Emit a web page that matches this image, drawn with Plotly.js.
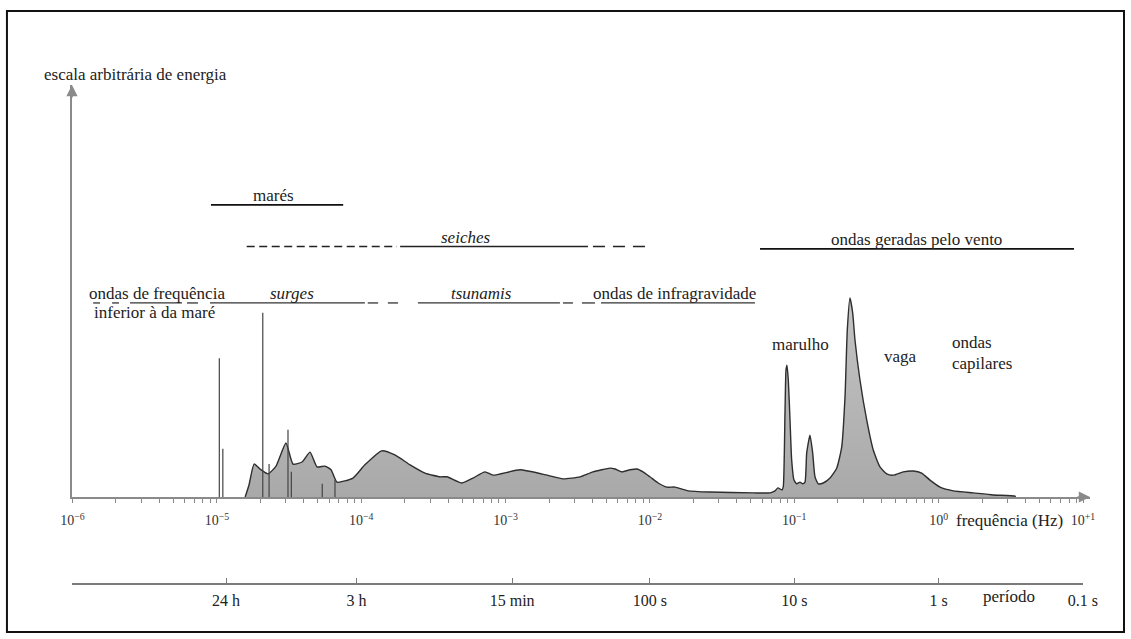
<!DOCTYPE html>
<html><head><meta charset="utf-8">
<script src="https://cdn.plot.ly/plotly-3.0.1.min.js"></script>
<style>html,body{margin:0;padding:0;background:#fff}#chart{width:1131px;height:639px}</style>
</head><body><div id="chart"></div>
<script>
// ---------- data ----------
const spectrumFreqHz = [1.57e-5,1.67e-5,1.81e-5,1.99e-5,2.26e-5,2.57e-5,3.01e-5,3.37e-5,3.89e-5,4.42e-5,4.94e-5,5.61e-5,6.18e-5,6.80e-5,8.77e-5,1.06e-4,1.39e-4,1.71e-4,2.18e-4,2.77e-4,3.51e-4,3.93e-4,4.99e-4,5.95e-4,7.20e-4,8.18e-4,1.26e-3,1.94e-3,2.50e-3,3.28e-3,4.03e-3,5.29e-3,5.73e-3,6.40e-3,7.28e-3,8.13e-3,8.95e-3,1.00e-2,1.14e-2,1.31e-2,1.49e-2,1.84e-2,2.61e-2,5.18e-2,6.79e-2,7.35e-2,7.71e-2,8.22e-2,8.39e-2,8.62e-2,8.76e-2,8.90e-2,9.09e-2,9.34e-2,9.59e-2,9.95e-2,0.1039,0.1095,0.1144,0.1186,0.1219,0.1284,0.1341,0.1391,0.1466,0.1588,0.1767,0.1967,0.2130,0.2246,0.2329,0.2431,0.2538,0.2633,0.2851,0.3174,0.3525,0.3923,0.4366,0.4851,0.5690,0.6674,0.7630,0.8710,1.022,1.263,1.738,2.390,3.380,3.40];
const spectrumEnergy = [0,0.29,0.80,0.68,0.56,0.75,1.31,0.80,0.85,1.09,0.73,0.75,0.66,0.36,0.46,0.78,1.12,1.02,0.78,0.58,0.49,0.49,0.34,0.46,0.61,0.53,0.66,0.53,0.44,0.49,0.61,0.70,0.68,0.61,0.66,0.68,0.61,0.49,0.34,0.24,0.24,0.15,0.12,0.10,0.10,0.15,0.22,0.17,0.25,2.04,3.08,3.20,2.84,1.87,0.90,0.41,0.32,0.36,0.32,0.36,1.07,1.50,1.07,0.49,0.32,0.34,0.46,0.70,1.21,2.43,4.05,4.83,4.47,3.81,2.84,1.87,1.14,0.73,0.56,0.53,0.61,0.63,0.58,0.41,0.24,0.15,0.10,0.05,0.02,0];

const tideLineFreqHz = [1.04e-5,1.10e-5,2.08e-5,2.30e-5,3.11e-5,3.28e-5,5.37e-5,6.58e-5];
const tideLineEnergy = [3.37,1.17,4.47,0.80,1.63,0.61,0.32,0.41];

const freqTickHz = [1e-6,1e-5,1e-4,1e-3,1e-2,1e-1,1,10];
const freqTickText = ['10<sup>−6</sup>','10<sup>−5</sup>','10<sup>−4</sup>','10<sup>−3</sup>','10<sup>−2</sup>','10<sup>−1</sup>','10<sup>0</sup>','10<sup>+1</sup>'];
const periodTickSeconds = [86400,10800,900,100,10,1,0.1];
const periodTickText = ['24 h','3 h','15 min','100 s','10 s','1 s','0.1 s'];

// bands (frequency ranges, Hz) and their levels on the energy scale
const maresSegmentsHz = [[9.1e-6,7.5e-5]];
const seichesDashedSegmentsHz = [[1.61e-5,1.77e-4]];
const seichesSolidSegmentsHz = [[1.86e-4,3.72e-3]];
const seichesEndDashSegmentsHz = [[4.03e-3,9.39e-3]];
const ventoSegmentsHz = [[5.79e-2,8.66]];
const lowerBandSegmentsHz = [[1.39e-6,1.55e-6],[1.88e-6,2.10e-6],[2.50e-6,5.73e-6],[6.21e-6,7.40e-6],[8.96e-6,1.06e-4],[1.11e-4,1.31e-4],[1.53e-4,1.80e-4],[2.47e-4,2.38e-3],[2.50e-3,2.93e-3],[3.38e-3,4.16e-3],[4.58e-3,5.34e-2]];
const maresLevel = 7.09, seichesLevel = 6.08, ventoLevel = 6.02, lowerLevel = 4.71;

// labels
const labelText = ['marés','seiches','ondas geradas pelo vento','surges','tsunamis','ondas de infragravidade','ondas de frequência','inferior à da maré','marulho','vaga','ondas','capilares'];
const labelFreqHz = [2.45e-5,5.24e-4,0.708,3.29e-5,6.76e-4,1.49e-2,1.26e-6,1.365e-6,0.110,0.548,1.20,1.20];
const labelEnergy = [7.31,6.31,6.26,4.95,4.95,4.95,4.93,4.47,3.69,3.42,3.74,3.25];
const labelItalic = [false,true,false,true,true,false,false,false,false,false,false,false];
const labelAnchor = ['center','center','center','center','center','center','left','left','center','center','left','left'];

// ---------- build ----------
const serif = 'Liberation Serif, Times New Roman, serif';
function segTrace(segs, level, dash, color, width){
  const x=[], y=[];
  segs.forEach(s=>{x.push(s[0],s[1],null);y.push(level,level,null);});
  return {x, y, type:'scatter', mode:'lines', line:{color:color, width:width, dash:dash}, hoverinfo:'skip', showlegend:false};
}
const tx=[], ty=[];
tideLineFreqHz.forEach((f,i)=>{tx.push(f,f,null);ty.push(0,tideLineEnergy[i],null);});

const traces = [
  {x:spectrumFreqHz, y:spectrumEnergy, type:'scatter', mode:'lines', fill:'tozeroy',
   line:{color:'#2e2e2e', width:1.4, shape:'spline', smoothing:0.5},
   fillgradient:{type:'vertical', colorscale:[[0,'#a9a9a9'],[1,'#c4c4c4']]},
   hoverinfo:'skip', showlegend:false},
  {x:tx, y:ty, type:'scatter', mode:'lines', line:{color:'#444', width:1.2}, hoverinfo:'skip', showlegend:false},
  segTrace(maresSegmentsHz, maresLevel, 'solid', '#111', 1.6),
  segTrace(seichesDashedSegmentsHz, seichesLevel, '8px,4.5px', '#222', 1.4),
  segTrace(seichesSolidSegmentsHz, seichesLevel, 'solid', '#222', 1.4),
  segTrace(seichesEndDashSegmentsHz, seichesLevel, '12px,8px', '#222', 1.4),
  segTrace(ventoSegmentsHz, ventoLevel, 'solid', '#111', 1.8),
  segTrace(lowerBandSegmentsHz, lowerLevel, 'solid', '#333', 1.3),
  {x:[periodTickSeconds[0]], y:[0], xaxis:'x2', yaxis:'y', type:'scatter', mode:'markers', marker:{opacity:0}, hoverinfo:'skip', showlegend:false}
];

const minorVals=[];
for(let e=-6;e<=0;e++){for(let m=2;m<=9;m++){minorVals.push(m*Math.pow(10,e));}}

const annotations = labelText.map((t,i)=>({
  xref:'x', yref:'y', x:Math.log10(labelFreqHz[i]), y:labelEnergy[i],
  text: labelItalic[i] ? '<i>'+t+'</i>' : t, showarrow:false,
  xanchor:labelAnchor[i], yanchor:'middle',
  font:{family:serif, size:17, color:'#222'}
}));
annotations.push(
  {xref:'paper', yref:'paper', x:-0.0295, y:1.022, xanchor:'left', yanchor:'middle', showarrow:false,
   text:'escala arbitrária de energia', font:{family:serif, size:17, color:'#222'}},
  {xref:'paper', yref:'paper', x:0.9214, y:0.1245, xanchor:'center', yanchor:'middle', showarrow:false,
   text:'frequência (Hz)', font:{family:serif, size:17, color:'#222'}},
  {xref:'paper', yref:'paper', x:0.9204, y:-0.0281, xanchor:'center', yanchor:'middle', showarrow:false,
   text:'período', font:{family:serif, size:17, color:'#222'}},
  {xref:'paper', yref:'paper', x:0, y:1, ax:0, ay:14, text:'', showarrow:true,
   arrowhead:2, arrowsize:1.4, arrowwidth:1.6, arrowcolor:'#8a8a8a'},
  {xref:'paper', yref:'paper', x:1, y:0.1727, ax:-14, ay:0, text:'', showarrow:true,
   arrowhead:2, arrowsize:1.4, arrowwidth:1.6, arrowcolor:'#8a8a8a'}
);

const layout = {
  width:1131, height:639,
  margin:{l:72, r:41, t:85, b:56, pad:0},
  paper_bgcolor:'#fff', plot_bgcolor:'rgba(0,0,0,0)',
  showlegend:false, hovermode:false,
  xaxis:{type:'log', range:[-6.0035,1.0485], anchor:'y',
    showline:true, linecolor:'#8a8a8a', linewidth:1.6, showgrid:false, zeroline:false,
    ticks:'outside', ticklen:4, tickwidth:1, tickcolor:'#8a8a8a',
    tickmode:'array', tickvals:freqTickHz, ticktext:freqTickText,
    tickfont:{family:serif, size:14, color:'#333'}, ticklabelstandoff:6,
    minor:{tickmode:'array', tickvals:minorVals, ticks:'outside', ticklen:4, tickwidth:1, tickcolor:'#8a8a8a', showgrid:false}},
  xaxis2:{type:'log', range:[6.0035,-1.0], domain:[0,0.9931], anchor:'free', position:0,
    showline:true, linecolor:'#7a7a7a', linewidth:1.6, showgrid:false, zeroline:false,
    ticks:'inside', ticklen:5, tickwidth:1, tickcolor:'#7a7a7a',
    tickmode:'array', tickvals:periodTickSeconds, ticktext:periodTickText,
    tickfont:{family:serif, size:16, color:'#222'}, ticklabelstandoff:2},
  yaxis:{domain:[0.1727,1], range:[0,10], showline:true, linecolor:'#8a8a8a', linewidth:1.6,
    showgrid:false, zeroline:false, showticklabels:false, ticks:''},
  annotations: annotations,
  shapes:[{type:'rect', xref:'paper', yref:'paper', x0:-0.0639, x1:1.0334, y0:-0.0984, y1:1.1486,
    line:{color:'#111', width:2}}]
};

Plotly.newPlot('chart', traces, layout, {staticPlot:true, displayModeBar:false});
</script></body></html>
